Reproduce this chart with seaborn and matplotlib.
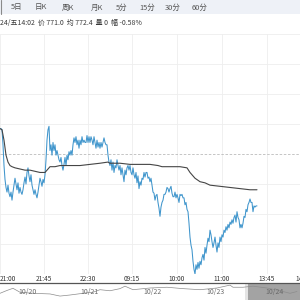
import numpy as np
import pandas as pd
import matplotlib
matplotlib.use("Agg")
import matplotlib.pyplot as plt
import matplotlib.transforms as mtransforms
from matplotlib.patches import Rectangle
import seaborn as sns

sns.set_style("white")
plt.rcParams['font.family'] = ['Noto Sans CJK SC', 'DejaVu Sans']

# ---------------- data ----------------
price = [
    777.7, 777.7, 777.6, 776.3, 774.5, 773.3, 772.6, 772.2, 772.8, 772.1,
    771.8, 772.2, 771.5, 772.2, 772.8, 773.4, 772.9, 772.4, 773.0, 772.1,
    772.6, 772.2, 772.0, 772.4, 773.0, 773.5, 772.9, 773.9, 774.3, 773.6,
    773.1, 773.7, 772.8, 772.4, 772.0, 772.4, 772.0, 771.7, 772.2, 772.8,
    773.4, 773.1, 772.7, 773.3, 773.0, 773.7, 775.0, 776.7, 777.6, 777.9,
    775.8, 776.3, 775.4, 776.5, 775.8, 776.3, 775.4, 775.8, 775.4, 775.0,
    774.8, 775.2, 774.5, 774.1, 774.6, 775.2, 774.5, 775.4, 775.0, 775.7,
    775.4, 775.8, 775.4, 776.3, 776.9, 776.5, 777.0, 776.3, 776.7, 776.0,
    776.7, 776.3, 777.0, 776.5, 776.7, 776.5, 776.5, 777.1, 776.5, 777.0,
    776.5, 777.0, 776.7, 776.3, 777.0, 776.5, 776.0, 776.7, 776.1, 776.5,
    776.0, 776.5, 776.1, 776.5, 776.9, 776.5, 776.3, 776.3, 775.4, 774.8,
    774.5, 775.0, 774.1, 774.8, 773.9, 774.5, 774.3, 775.0, 774.5, 774.1,
    774.5, 773.7, 774.3, 773.7, 773.1, 774.1, 773.7, 774.3, 774.5, 774.1,
    774.5, 773.9, 773.7, 774.3, 773.7, 773.4, 773.9, 773.0, 773.6, 772.5,
    773.1, 772.8, 773.4, 773.3, 773.9, 773.5, 773.9, 773.9, 773.4, 773.5,
    773.1, 773.4, 772.8, 772.2, 772.1, 771.5, 771.9, 772.0, 771.3, 770.8,
    770.1, 770.9, 771.3, 771.5, 772.0, 772.0, 772.2, 772.6, 772.5, 772.2,
    772.5, 772.7, 772.1, 771.8, 771.8, 772.2, 771.7, 772.0, 771.7, 771.3,
    772.0, 771.9, 772.0, 771.7, 771.7, 771.1, 771.3, 770.7, 770.5, 769.5,
    768.3, 767.6, 767.2, 766.2, 765.5, 765.1, 765.9, 765.5, 766.1, 765.6,
    766.2, 765.9, 766.5, 766.8, 766.3, 767.4, 766.9, 767.6, 768.2, 767.9,
    768.9, 768.5, 767.9, 767.4, 767.8, 768.3, 767.6, 767.0, 767.8, 767.4,
    768.3, 767.9, 768.5, 768.3, 768.9, 768.7, 769.2, 768.9, 769.4, 769.1,
    769.6, 769.4, 769.8, 769.5, 770.0, 770.2, 769.6, 770.5, 770.0, 769.8,
    769.1, 769.4, 769.1, 769.5, 770.1, 770.0, 770.7, 770.5, 771.1, 771.3,
    771.6, 771.3, 771.3, 770.5, 771.0, 770.9, 771.0, 771.0,
]
avg_idx = [0, 2, 4, 6, 8, 10, 12, 15, 20, 25, 30, 35, 40, 45, 47, 50, 55, 60,
           70, 80, 90, 100, 108, 110, 120, 130, 140, 150, 158, 162, 170, 180,
           187, 190, 195, 200, 205, 210, 220, 230, 240, 250, 257]
avg_val = [777.7, 777.6, 776.7, 775.4, 774.8, 774.5, 774.4, 774.3, 774.2, 774.1,
           774.1, 774.0, 773.9, 773.9, 774.1, 774.4, 774.4, 774.5, 774.5, 774.5,
           774.6, 774.7, 774.8, 774.7, 774.7, 774.6, 774.6, 774.6, 774.5, 774.4,
           774.4, 774.4, 774.3, 773.9, 773.4, 773.1, 773.0, 772.8, 772.7, 772.6,
           772.5, 772.4, 772.4]
prev_close = 775.5
y_range = (765.1, 785.9)

tick_pos = [0, 43.5, 88, 132, 177, 222, 266.5]
tick_labels = ["21:00", "21:45", "22:30", "09:15", "10:00", "11:00", "13:45"]
extra_tick_label = "14:30"

tabs = ["5日", "日K", "周K", "月K", "5分", "15分", "30分", "60分"]
info_text = "24/五14:02  价 771.0  均 772.4  量 0  幅 -0.58%"

nav_x = [0, 7, 13, 20, 33, 50, 60, 70, 83, 93, 100, 110, 120, 125, 133, 150,
         167, 183, 200, 217, 230, 233, 243, 253, 267, 280, 290, 297]
nav_v = [772.3, 775.0, 777.0, 773.3, 772.3, 771.7, 769.7, 770.7, 772.3, 773.3,
         775.7, 774.7, 776.7, 779.0, 775.7, 777.3, 778.0, 776.7, 775.7, 777.3,
         780.0, 778.0, 778.0, 779.0, 777.3, 774.7, 772.3, 774.0]
nav_dates = ["10/20", "10/21", "10/22", "10/23", "10/24"]
nav_date_pos = [28, 90, 153, 215, 275]

# ---------------- figure ----------------
W = H = 300
fig = plt.figure(figsize=(3, 3), dpi=100)
fig.patch.set_facecolor("white")

# top tab bar
fig.patches.append(Rectangle((0, 1 - 14 / H), 1, 14 / H, transform=fig.transFigure,
                             facecolor="#eef1f7", edgecolor="none", zorder=0))
fig.lines.append(plt.Line2D([0.8 / W, 0.8 / W], [1 - 14 / H, 1], transform=fig.transFigure,
                            color="#8a8a8a", lw=0.8))
tab_x = [17, 41, 68, 97, 122, 147, 173, 200]
for t, xp in zip(tabs, tab_x):
    fig.text(xp / W, 1 - 7.5 / H, t, ha="center", va="center", fontsize=5.4, color="#555555")

fig.text(0 / W, 1 - 23 / H, info_text, ha="left", va="center", fontsize=5.0, color="#3a3a3a")

# main axes
ax = fig.add_axes([0, 26 / H, 1, 240 / H])
df = pd.DataFrame({"idx": np.arange(len(price)), "price": price})
dfa = pd.DataFrame({"idx": avg_idx, "avg": avg_val})
sns.lineplot(data=df, x="idx", y="price", ax=ax, color="#3f95cc", lw=0.75, zorder=3)
sns.lineplot(data=dfa, x="idx", y="avg", ax=ax, color="#454545", lw=0.8, zorder=3)
ax.set_xlim(0, W)
ax.set_ylim(*y_range)
levels = np.linspace(y_range[0], y_range[1], 9)
ax.set_yticks([v for i, v in enumerate(levels) if i != 4])
ax.set_xticks(tick_pos)
ax.set_xticklabels(tick_labels)
ax.grid(True, color="#eeeeee", lw=0.6, zorder=0)
ax.axhline(prev_close, color="#bbbbbb", lw=0.6, ls=(0, (3, 2)), zorder=1)
ax.tick_params(axis="y", left=False, labelleft=False)
ax.tick_params(axis="x", length=0, pad=0.8, labelsize=4.7, labelcolor="#333333")
ax.get_xticklabels()[0].set_ha("left")
for s in ax.spines.values():
    s.set_visible(False)
ax.set_xlabel("")
ax.set_ylabel("")
lab0 = ax.get_xticklabels()[0]
fig.canvas.draw()
bb = lab0.get_window_extent()
ax.text(304, bb.y1, extra_tick_label,
        transform=mtransforms.blended_transform_factory(ax.transData, mtransforms.IdentityTransform()),
        ha="center", va="top", fontsize=4.7, color="#333333", clip_on=False)

# navigator
nav = fig.add_axes([0, 0, 1, 17 / H])
sns.lineplot(x=nav_x, y=nav_v, ax=nav, color="#8c8c8c", lw=0.5, zorder=3)
nav.set_xlim(0, W)
nav.set_ylim(766, 782)
nav.axvspan(248, 300, color="#a3a3a3", zorder=2, lw=0)
nav.axvspan(244.5, 248, color="#e4e4e4", zorder=2, lw=0)
for d, xp in zip(nav_dates, nav_date_pos):
    nav.text(xp, 0.45, d, transform=mtransforms.blended_transform_factory(nav.transData, nav.transAxes),
             ha="center", va="center", fontsize=5.0, color="#6a6a6a", zorder=4)
nav.set_xticks([])
nav.set_yticks([])
for k, s in nav.spines.items():
    s.set_visible(k == "top")
nav.spines["top"].set_color("#555555")
nav.spines["top"].set_linewidth(0.9)
nav.set_facecolor("none")

fig.savefig("out.png", dpi=100)
